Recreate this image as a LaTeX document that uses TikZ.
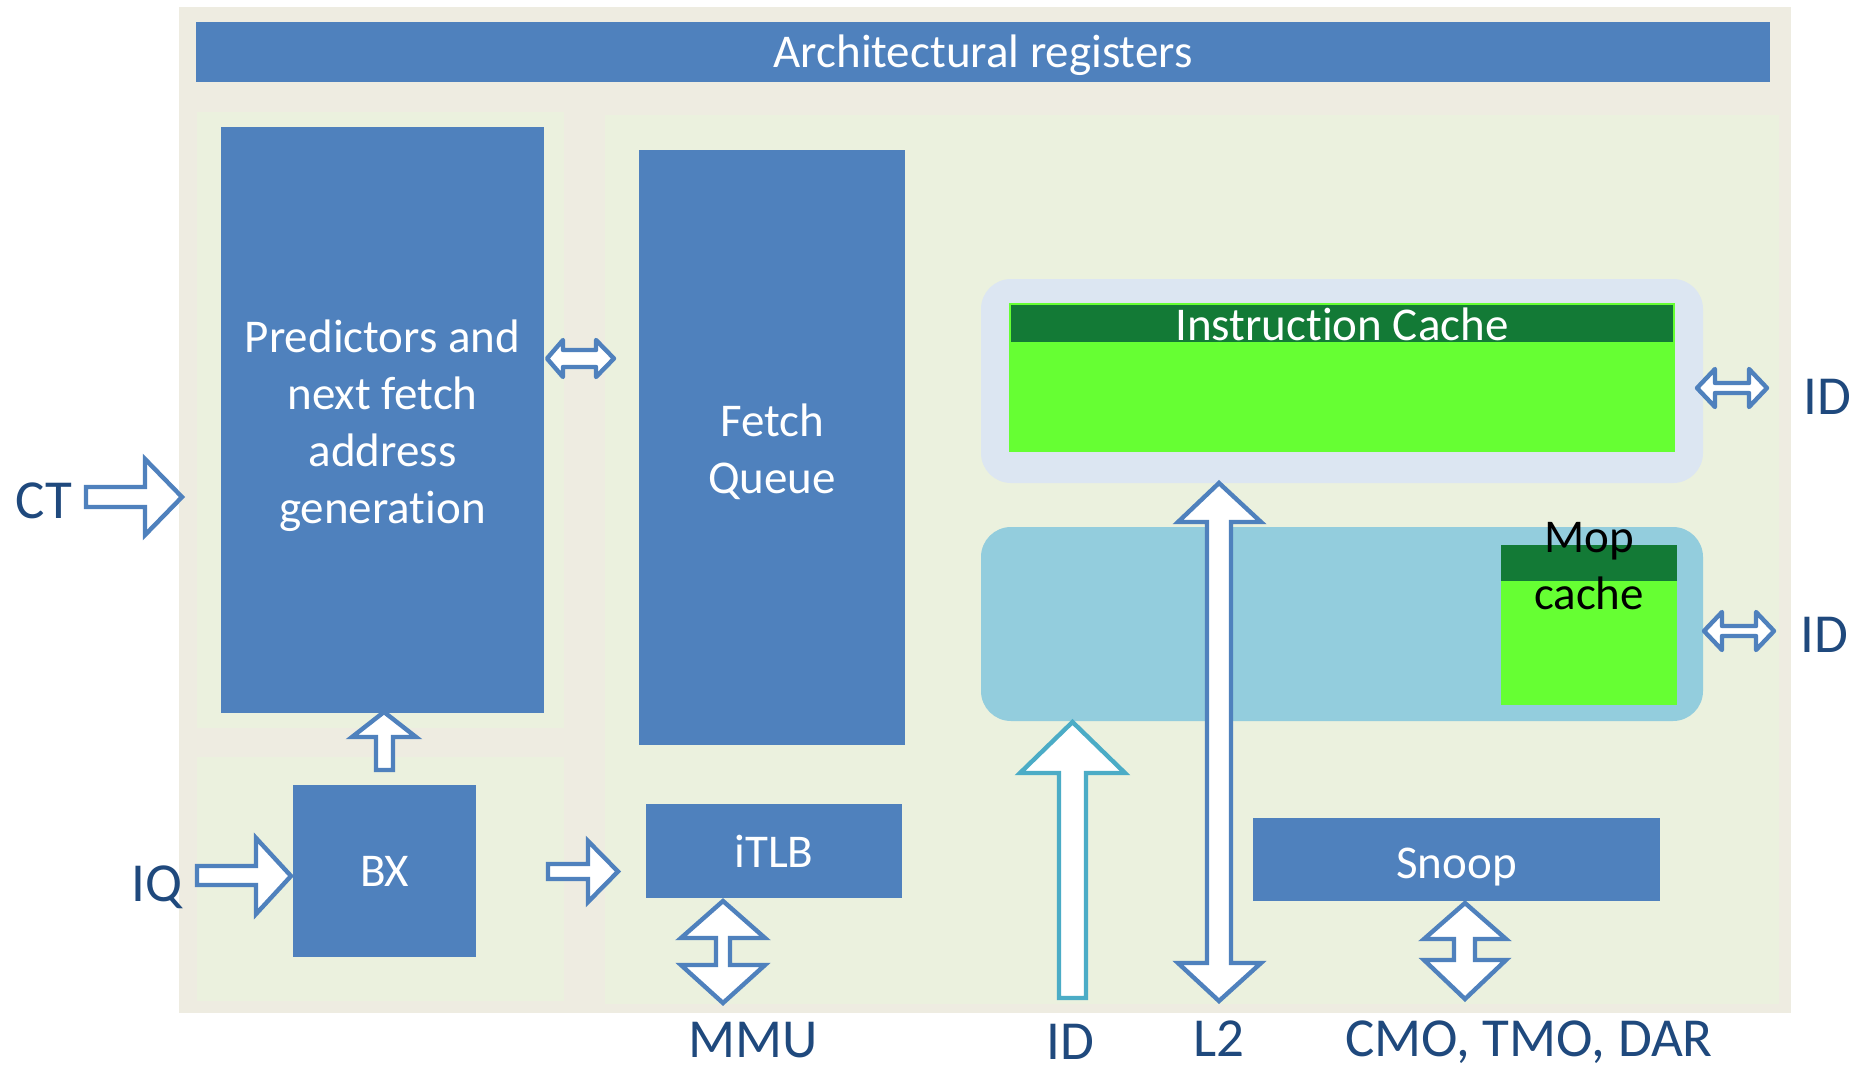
\documentclass[tikz,border=0pt]{standalone}
\usepackage{fontspec}
\setmainfont{Carlito}[Ligatures=NoCommon]
\definecolor{tanbg}{HTML}{EEECE1}
\definecolor{panelbg}{HTML}{EBF1DE}
\definecolor{myblue}{HTML}{4F81BD}
\definecolor{labelblue}{HTML}{1F497D}
\definecolor{icacheouter}{HTML}{DCE6F2}
\definecolor{mopouter}{HTML}{93CDDD}
\definecolor{lgreen}{HTML}{66FF33}
\definecolor{dgreen}{HTML}{137A36}
\definecolor{teal}{HTML}{4BACC6}
\newcommand\boxfont{\fontsize{23.5}{28.5}\selectfont}
\newcommand\lblfont{\fontsize{27.5}{33}\selectfont}
\tikzset{
  blk/.style={fill=myblue, draw=none, text=white, font=\boxfont, inner sep=0pt, align=center},
  capline/.style={text height=15pt, text depth=0pt},
  barrow/.style={draw=myblue, fill=white, line width=2.2pt, line join=miter},
  darrow/.style={draw=myblue, fill=white, line width=2.2pt, line join=round},
  tarrow/.style={draw=teal, fill=white, line width=2.2pt, line join=miter},
  lbl/.style={text=labelblue, font=\lblfont, inner sep=0pt, anchor=base},
  txt/.style={text=white, font=\boxfont, inner sep=0pt, align=center},
}
\begin{document}
\begin{tikzpicture}[x=0.5pt, y=-0.5pt]
\useasboundingbox (0,0) rectangle (1859,1066);
\fill[white] (0,0) rectangle (1859,1066);
% background panels
\fill[tanbg] (179,7) rectangle (1791,1013);
\fill[panelbg] (197,112) rectangle (564,728);
\fill[panelbg] (197,757) rectangle (564,1001);
\fill[panelbg] (605,115) rectangle (1779,1004);
% blocks
\node[blk, capline, minimum width=787pt, minimum height=30pt] (arch) at (983,52) {Architectural registers};
\node[blk, minimum width=161.5pt, minimum height=293pt] (pred) at (382.5,420) {};
\node[txt] (predtext) at (382.5,425.5) {Predictors and\\next fetch\\address\\generation};
\node[blk, minimum width=133pt, minimum height=297.5pt] (fetch) at (772,447.5) {};
\node[txt] (fetchtext) at (772,451.5) {Fetch\\Queue};
\node[blk, capline, minimum width=91.5pt, minimum height=86pt] (bx) at (384.5,871) {BX};
\node[blk, capline, minimum width=128pt, minimum height=47pt] (itlb) at (774,851) {};
\node[txt, capline] (itlbtext) at (774,852) {iTLB};
\node[blk, minimum width=203.5pt, minimum height=41.5pt] (snoop) at (1456.5,859.5) {};
\node[txt, capline] (snooptext) at (1456.5,863) {Snoop};
% caches
\node[fill=icacheouter, rounded corners=15pt, minimum width=361pt, minimum height=102pt, inner sep=0pt] (icouter) at (1342,381) {};
\node[fill=lgreen, minimum width=333pt, minimum height=74.5pt, inner sep=0pt] (icgreen) at (1342,377.5) {};
\node[fill=dgreen, minimum width=331pt, minimum height=18.5pt, inner sep=0pt] (ichead) at (1342,323.5) {};
\node[txt, capline] (ictext) at (1342,325.5) {Instruction Cache};
\node[fill=mopouter, rounded corners=15pt, minimum width=361pt, minimum height=97pt, inner sep=0pt] (mopouter) at (1342,624) {};
\node[fill=lgreen, minimum width=88pt, minimum height=80pt, inner sep=0pt] (mopgreen) at (1589,625) {};
\node[fill=dgreen, minimum width=88pt, minimum height=18pt, inner sep=0pt] (mophead) at (1589,563) {};
\node[font=\boxfont, text=black, inner sep=0pt, align=center] (moptext) at (1589,566) {Mop\\cache};
% labels
\node[lbl] (ct) at (44,518) {CT};
\node[lbl] (iq) at (157,901) {IQ};
\node[lbl] (id1) at (1827,414) {ID};
\node[lbl] (id2) at (1824,652) {ID};
\node[lbl] (mmu) at (753,1057) {MMU};
\node[lbl] (id3) at (1070,1059) {ID};
\node[lbl] (l2) at (1219,1056) {L2};
\node[lbl] (cmo) at (1529,1056) {CMO, TMO, DAR};
% block arrows
\draw[barrow] (86,487) -- (145,487) -- (145,459) -- (182,497) -- (145,535) -- (145,507) -- (86,507) -- cycle;
\draw[barrow] (197,866) -- (256,866) -- (256,838) -- (291,876) -- (256,914) -- (256,885) -- (197,885) -- cycle;
\draw[barrow] (548,864) -- (588,864) -- (588,841) -- (618,871.5) -- (588,902) -- (588,879) -- (548,879) -- cycle;
\draw[barrow] (376,770) -- (376,737) -- (352,737) -- (384,712) -- (416,737) -- (393,737) -- (393,770) -- cycle;
\draw[darrow] (547,358.5) -- (563,340) -- (563,350) -- (596,350) -- (596,340) -- (614,358.5) -- (596,377) -- (596,367) -- (563,367) -- (563,377) -- cycle;
\draw[darrow] (1697,388) -- (1715,369) -- (1715,383) -- (1749,383) -- (1749,369) -- (1767,388) -- (1749,407) -- (1749,393) -- (1715,393) -- (1715,407) -- cycle;
\draw[darrow] (1704,631) -- (1722,612) -- (1722,626) -- (1756,626) -- (1756,612) -- (1774,631) -- (1756,650) -- (1756,636) -- (1722,636) -- (1722,650) -- cycle;
\draw[barrow] (723,901) -- (765,938) -- (730,938) -- (730,965) -- (765,965) -- (723,1003) -- (681,965) -- (716,965) -- (716,938) -- (681,938) -- cycle;
\draw[barrow] (1465,903) -- (1506,939) -- (1475,939) -- (1475,960) -- (1506,960) -- (1465,999) -- (1424,960) -- (1454,960) -- (1454,939) -- (1424,939) -- cycle;
\draw[barrow] (1219,483) -- (1261,522) -- (1231,522) -- (1231,963) -- (1261,963) -- (1219,1001) -- (1178,963) -- (1207,963) -- (1207,522) -- (1178,522) -- cycle;
\draw[tarrow] (1072.5,722) -- (1125,773) -- (1086,773) -- (1086,998) -- (1059,998) -- (1059,773) -- (1020,773) -- cycle;
\end{tikzpicture}
\end{document}
